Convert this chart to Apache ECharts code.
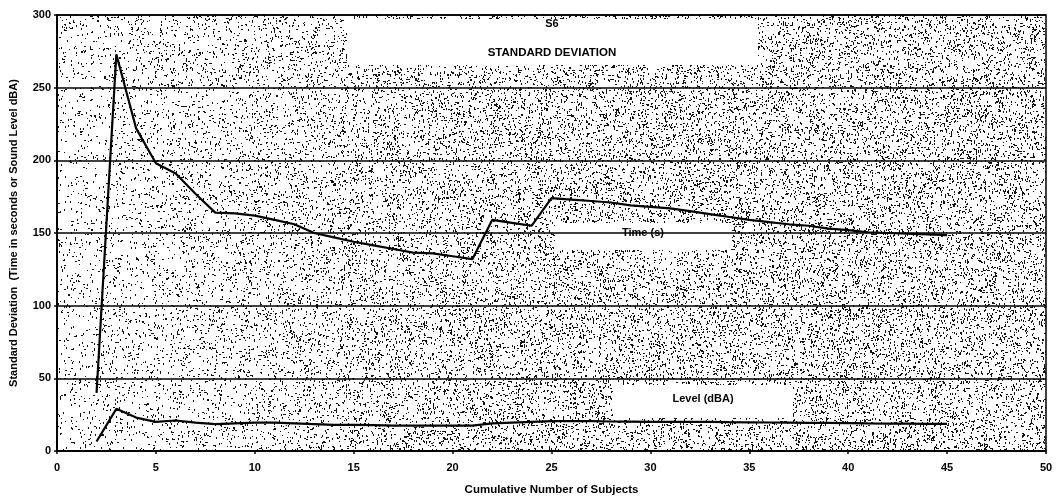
<!DOCTYPE html>
<html>
<head>
<meta charset="utf-8">
<script src="https://cdn.jsdelivr.net/npm/echarts@6/dist/echarts.min.js"></script>
<style>
  html, body { margin: 0; padding: 0; background: #fff; }
  #chart { width: 1057px; height: 501px; }
</style>
</head>
<body>
<div id="chart"></div>
<script>
// Cumulative number of subjects
const subjects = [2,3,4,5,6,7,8,9,10,11,12,13,14,15,16,17,18,19,20,21,22,23,24,25,26,27,28,29,30,31,32,33,34,35,36,37,38,39,40,41,42,43,44,45];

// Standard deviation of time (s)
const timeSD = [40,273,222,198,191,177,164,163.5,162,159,156,150,147,144,141.5,139,136.5,136,134,132,159,157,155,174,173,172,171,169,168,167,165,163,161,159,157.5,156,155,153,152,150.5,150,149.5,149,148.5];

// Standard deviation of sound level (dBA)
const levelSD = [6.5,29,23,20,21,19.5,18.5,19,19.5,19.5,19,18.5,18,18,17.8,17.5,17.5,17.5,17.5,17.5,19,19.5,20,20.5,20.5,20.5,20.3,20.2,20,20,20,20,19.8,19.7,19.6,19.5,19.4,19.3,19.2,19,18.9,18.8,18.7,18.6];

const yTicks = [0,50,100,150,200,250,300];
const xTicks = [0,5,10,15,20,25,30,35,40,45,50];

const W = 1057, H = 501;
const G = { left: 57, right: 11, top: 15, bottom: 49 };

// Speckled paper texture behind the plot area (seeded hash, decorative only)
function speckle() {
  const c = document.createElement('canvas');
  c.width = W; c.height = H;
  const g = c.getContext('2d');
  g.fillStyle = '#ffffff';
  g.fillRect(0, 0, W, H);
  let a = 987654321;
  const rnd = () => {
    a |= 0; a = (a + 0x6D2B79F5) | 0;
    let t = Math.imul(a ^ (a >>> 15), 1 | a);
    t = (t + Math.imul(t ^ (t >>> 7), 61 | t)) ^ t;
    return ((t ^ (t >>> 14)) >>> 0) / 4294967296;
  };
  const x0 = G.left, x1 = W - G.right, y0 = G.top, y1 = H - G.bottom;
  g.fillStyle = '#111';
  for (let i = 0; i < 42000; i++) {
    const px = x0 + rnd() * (x1 - x0);
    const py = y0 + rnd() * (y1 - y0);
    const fx = (px - x0) / (x1 - x0);
    // sparser on the left, denser toward the middle and right
    const dens = 0.35 + 0.65 * Math.min(1, fx * 2.2);
    if (rnd() > dens) continue;
    const k = rnd();
    const ix = Math.floor(px), iy = Math.floor(py);
    if (k < 0.45) g.fillRect(ix, iy, 1, 2);
    else if (k < 0.7) g.fillRect(ix, iy, 2, 1);
    else g.fillRect(ix, iy, 1, 1);
  }
  return c;
}

const pairs = (xs, ys) => xs.map((x, i) => [x, ys[i]]);

const font = 'Liberation Sans, Arial, sans-serif';
const chart = echarts.init(document.getElementById('chart'), null, { renderer: 'canvas' });

chart.setOption({
  animation: false,
  backgroundColor: '#ffffff',
  grid: {
    left: G.left, right: G.right, top: G.top, bottom: G.bottom,
    show: true,
    borderColor: '#000',
    borderWidth: 1.5,
    backgroundColor: { image: speckle(), repeat: 'no-repeat' }
  },
  xAxis: {
    type: 'value',
    min: xTicks[0], max: xTicks[xTicks.length - 1], interval: 5,
    name: 'Cumulative Number of Subjects',
    nameLocation: 'middle',
    nameGap: 33,
    nameTextStyle: { fontFamily: font, fontWeight: 'bold', fontSize: 11.5, color: '#000' },
    axisLine: { lineStyle: { color: '#000', width: 2 } },
    axisTick: { show: true, length: 3, lineStyle: { color: '#000', width: 1.5 } },
    axisLabel: { fontFamily: font, fontWeight: 'bold', fontSize: 11, color: '#000', margin: 11 },
    splitLine: { show: false }
  },
  yAxis: {
    type: 'value',
    min: yTicks[0], max: yTicks[yTicks.length - 1], interval: 50,
    name: 'Standard Deviation  (Time in seconds or Sound Level dBA)',
    nameLocation: 'middle',
    nameGap: 38,
    nameTextStyle: { fontFamily: font, fontWeight: 'bold', fontSize: 11, color: '#000' },
    axisLine: { show: true, lineStyle: { color: '#000', width: 2 } },
    axisTick: { show: true, length: 3, lineStyle: { color: '#000', width: 1.5 } },
    axisLabel: { fontFamily: font, fontWeight: 'bold', fontSize: 11, color: '#000', margin: 6 },
    splitLine: { show: true, lineStyle: { color: '#000', width: 1.5 } }
  },
  series: [
    {
      name: 'Time (s)',
      type: 'line',
      data: pairs(subjects, timeSD),
      symbol: 'none',
      lineStyle: { color: '#000', width: 2.2 },
      z: 5
    },
    {
      name: 'Level (dBA)',
      type: 'line',
      data: pairs(subjects, levelSD),
      symbol: 'none',
      lineStyle: { color: '#000', width: 2.2 },
      z: 5
    }
  ],
  graphic: [
    {
      type: 'group', z: 10,
      children: [
        { type: 'rect', shape: { x: 347, y: 19, width: 411, height: 46 }, style: { fill: '#fff' } },
        { type: 'text', style: { x: 552, y: 24, text: 'S6', align: 'center', verticalAlign: 'middle', fill: '#000', font: 'bold 11px ' + font } },
        { type: 'text', style: { x: 552, y: 53, text: 'STANDARD DEVIATION', align: 'center', verticalAlign: 'middle', fill: '#000', font: 'bold 11.5px ' + font } }
      ]
    },
    {
      type: 'group', z: 10,
      children: [
        { type: 'rect', shape: { x: 555, y: 223, width: 176, height: 27 }, style: { fill: '#fff' } },
        { type: 'text', style: { x: 643, y: 233, text: 'Time (s)', align: 'center', verticalAlign: 'middle', fill: '#000', font: 'bold 11px ' + font } }
      ]
    },
    {
      type: 'group', z: 10,
      children: [
        { type: 'rect', shape: { x: 613, y: 385, width: 180, height: 33 }, style: { fill: '#fff' } },
        { type: 'text', style: { x: 703, y: 399, text: 'Level (dBA)', align: 'center', verticalAlign: 'middle', fill: '#000', font: 'bold 11px ' + font } }
      ]
    }
  ]
});
</script>
</body>
</html>
